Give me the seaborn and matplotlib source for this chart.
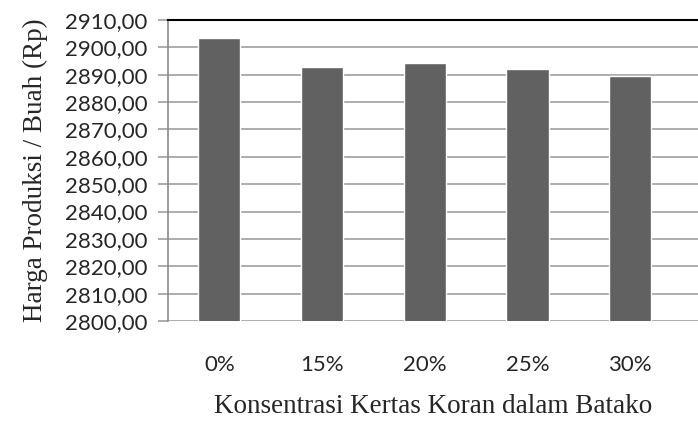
import numpy as np
import pandas as pd
import seaborn as sns
import matplotlib.pyplot as plt
from matplotlib.ticker import FuncFormatter

# values
categories = ['0%', '15%', '20%', '25%', '30%']
harga = [2903.4, 2892.8, 2894.3, 2892.1, 2889.6]

df = pd.DataFrame({'Konsentrasi': categories, 'Harga': harga})

sns.set_style('white')
plt.rcParams['font.family'] = ['Lato', 'DejaVu Sans']

fig = plt.figure(figsize=(6.98, 4.25), dpi=100)
ax = fig.add_axes([168 / 698, 1 - 321 / 425, 1 - 168 / 698, (321 - 20) / 425])

sns.barplot(data=df, x='Konsentrasi', y='Harga', color='#616161',
            width=0.41, saturation=1, ax=ax, zorder=3)

ax.set_ylim(2800, 2910)
ax.set_yticks(np.arange(2800, 2911, 10))
ax.yaxis.set_major_formatter(FuncFormatter(lambda v, p: f'{v:.2f}'.replace('.', ',')))
ax.set_xlim(-0.5, 4.66)

ax.grid(axis='y', color='#a0a0a0', linewidth=1.2, zorder=0)
ax.set_axisbelow(True)

for side in ['right', 'bottom']:
    ax.spines[side].set_visible(False)
ax.spines['left'].set_color('#8c8c8c')
ax.spines['left'].set_linewidth(1.2)
ax.spines['top'].set_color('black')
ax.spines['top'].set_linewidth(1.5)

ax.tick_params(axis='y', left=True, length=7, width=1.2, color='#a0a0a0',
               labelsize=16, pad=8)
ax.tick_params(axis='x', bottom=False, labelsize=16, pad=21)

ax.set_xlabel('Konsentrasi Kertas Koran dalam Batako', family='Liberation Serif',
              fontsize=19.5, labelpad=14)
ax.set_ylabel('Harga Produksi / Buah (Rp)', family='Liberation Serif',
              fontsize=19.5, labelpad=12)

fig.savefig('out.png', dpi=100)
